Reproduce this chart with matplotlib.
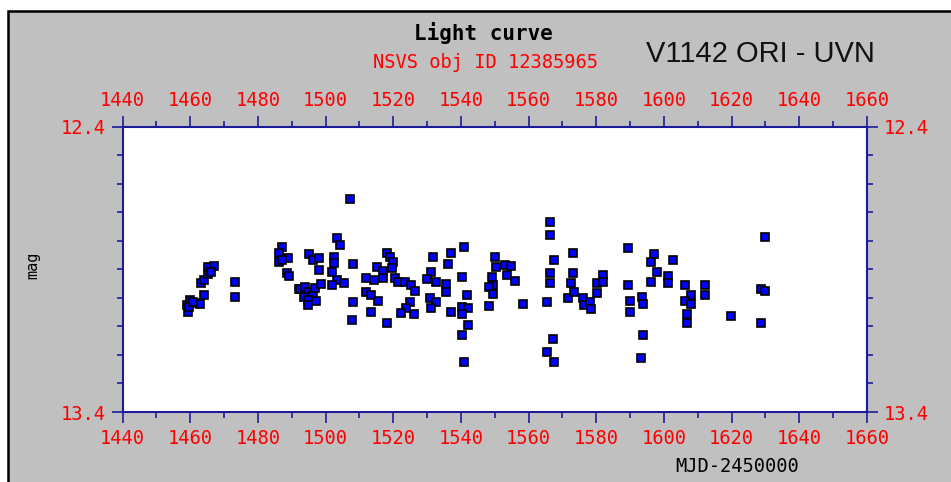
import matplotlib.pyplot as plt
from matplotlib.patches import Rectangle
from matplotlib.ticker import MultipleLocator, FixedLocator

# NSVS photometry, MJD-2450000 vs magnitude
mjd = [1459.3, 1459.0, 1459.9, 1461.4, 1462.9, 1459.6, 1460.9, 1464.2, 1463.2, 1464.2,
       1465.2, 1465.3, 1467.1, 1466.1, 1473.2, 1473.2, 1487.2, 1486.2, 1486.2, 1489.0,
       1487.2, 1488.5, 1489.2, 1492.1, 1507.2, 1503.3, 1504.2, 1495.1, 1496.3, 1498.0,
       1498.0, 1502.5, 1502.5, 1502.0, 1503.3, 1502.0, 1505.5, 1508.2, 1492.4, 1493.9,
       1494.9, 1496.3, 1496.8, 1498.6, 1493.7, 1494.9, 1494.7, 1497.3, 1508.2, 1507.7,
       1512.1, 1514.4, 1515.1, 1517.0, 1517.0, 1518.3, 1519.0, 1520.0, 1519.5, 1520.5,
       1521.4, 1523.4, 1525.2, 1526.4, 1512.1, 1513.4, 1515.5, 1513.4, 1518.3, 1524.9,
       1523.9, 1522.2, 1526.2, 1540.9, 1531.8, 1537.0, 1536.2, 1531.3, 1530.1, 1532.5,
       1535.7, 1535.7, 1540.3, 1530.8, 1532.5, 1531.3, 1541.9, 1540.3, 1542.1, 1537.0,
       1540.3, 1542.1, 1540.3, 1540.9, 1550.0, 1550.5, 1553.0, 1554.9, 1553.5, 1556.1,
       1549.2, 1549.5, 1548.2, 1549.5, 1548.2, 1558.4, 1566.2, 1566.2, 1567.5, 1566.2,
       1566.2, 1565.3, 1567.2, 1565.3, 1567.5, 1573.1, 1573.1, 1572.4, 1571.5, 1573.4,
       1576.1, 1576.4, 1578.1, 1578.4, 1580.3, 1580.3, 1582.0, 1582.0, 1589.4, 1589.4,
       1590.1, 1590.1, 1593.5, 1593.8, 1593.8, 1593.3, 1597.2, 1596.3, 1598.0, 1596.3,
       1602.6, 1601.2, 1601.2, 1606.3, 1608.1, 1606.1, 1608.1, 1606.9, 1606.9, 1612.0,
       1612.0, 1619.9, 1629.9, 1628.8, 1630.0, 1628.8]
mag = [13.049, 13.025, 13.008, 13.019, 13.022, 13.031, 13.014, 12.990, 12.949, 12.938,
       12.918, 12.891, 12.889, 12.911, 12.944, 12.998, 12.821, 12.844, 12.874, 12.862,
       12.868, 12.914, 12.923, 12.969, 12.654, 12.792, 12.815, 12.848, 12.868, 12.860,
       12.903, 12.856, 12.879, 12.909, 12.938, 12.955, 12.949, 12.882, 12.969, 12.961,
       12.981, 12.990, 12.967, 12.951, 12.996, 13.008, 13.025, 13.011, 13.016, 13.078,
       12.930, 12.938, 12.891, 12.906, 12.930, 12.844, 12.856, 12.876, 12.897, 12.932,
       12.944, 12.944, 12.955, 12.976, 12.981, 12.990, 13.011, 13.049, 13.089, 13.016,
       13.037, 13.054, 13.058, 12.821, 12.856, 12.842, 12.883, 12.911, 12.935, 12.944,
       12.953, 12.979, 12.928, 13.002, 13.016, 13.037, 12.990, 13.031, 13.037, 13.049,
       13.058, 13.095, 13.130, 13.224, 12.856, 12.891, 12.885, 12.889, 12.920, 12.941,
       12.926, 12.955, 12.961, 12.988, 13.029, 13.022, 12.733, 12.780, 12.868, 12.914,
       12.949, 13.016, 13.144, 13.189, 13.224, 12.842, 12.914, 12.949, 13.002, 12.981,
       13.000, 13.025, 13.016, 13.039, 12.984, 12.949, 12.920, 12.944, 12.827, 12.955,
       13.010, 13.049, 12.996, 13.023, 13.130, 13.212, 12.848, 12.874, 12.911, 12.944,
       12.868, 12.923, 12.949, 12.955, 12.990, 13.011, 13.023, 13.058, 13.089, 12.955,
       12.990, 13.063, 12.788, 12.969, 12.976, 13.089]

xticks = list(range(1440, 1661, 20))
yticks = [12.4, 13.4]

navy = '#1c1c9a'
red = '#ff0000'
mono = 'DejaVu Sans Mono'

fig = plt.figure(figsize=(9.51, 4.82), dpi=100, facecolor='white')
# grey panel with black frame, kept behind the axes
fig.patches.append(Rectangle((8 / 951, -0.05), 1.1, (482 - 10.5) / 482 + 0.05,
                             transform=fig.transFigure, facecolor='#c0c0c0',
                             edgecolor='black', linewidth=1.8, zorder=-10))

ax = fig.add_axes([122.5 / 951, 70 / 482, 744.5 / 951, 285.5 / 482])
ax.set_zorder(1)
ax.set_facecolor('white')
ax.plot(mjd, mag, 's', ms=6, mfc='#0000ff', mec='black', mew=1.2, zorder=3)

ax.set_xlim(1440, 1660)
ax.set_ylim(13.4, 12.4)
ax.xaxis.set_major_locator(FixedLocator(xticks))
ax.xaxis.set_minor_locator(MultipleLocator(10))
ax.yaxis.set_major_locator(FixedLocator(yticks))
ax.yaxis.set_minor_locator(MultipleLocator(0.1))
ax.set_yticklabels(['12.4', '13.4'])
ax.set_xticklabels([str(t) for t in xticks])

for s in ax.spines.values():
    s.set_color(navy)
    s.set_linewidth(1.5)

ax.tick_params(which='both', direction='out', color=navy, width=1.2,
               top=True, bottom=True, left=True, right=True,
               labeltop=True, labelbottom=True, labelleft=True, labelright=True,
               labelcolor=red, labelsize=13.5, pad=4)
ax.tick_params(which='major', length=8)
ax.tick_params(which='minor', length=4.5)
for t in ax.xaxis.get_major_ticks() + ax.yaxis.get_major_ticks():
    t.label1.set_family(mono)
    t.label2.set_family(mono)

fig.text(483 / 951, 1 - 33 / 482, 'Light curve', ha='center', va='center',
         family=mono, weight='bold', fontsize=15, color='black')
fig.text(485 / 951, 1 - 62 / 482, 'NSVS obj ID 12385965', ha='center', va='center',
         family=mono, fontsize=13.5, color=red)
fig.text(760 / 951, 1 - 54 / 482, 'V1142 ORI - UVN', ha='center', va='center',
         family='Liberation Sans', fontsize=21, color='#111111')
fig.text(33 / 951, 1 - 265 / 482, 'mag', ha='center', va='center', rotation=90,
         family=mono, fontsize=11, color='black')
fig.text(737 / 951, 1 - 467 / 482, 'MJD-2450000', ha='center', va='center',
         family=mono, fontsize=13.5, color='black')

fig.savefig('out.png', dpi=100, facecolor=fig.get_facecolor())
